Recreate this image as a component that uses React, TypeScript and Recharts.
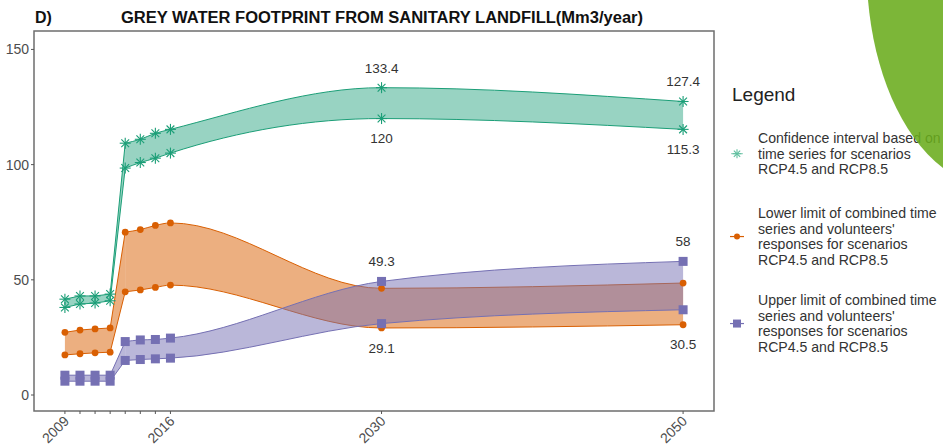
import React from 'react';
import {
  ComposedChart,
  Area,
  Line,
  XAxis,
  YAxis,
  ReferenceArea,
  ReferenceDot,
  Customized,
} from 'recharts';

// ---- data -------------------------------------------------------------
const years = [2009, 2010, 2011, 2012, 2013, 2014, 2015, 2016, 2030, 2050];

// Confidence interval based on time series (Mm3/year)
const greenHigh = [41.6, 43.0, 43.0, 43.8, 109.3, 111.0, 113.6, 115.3, 133.4, 127.4];
const greenLow = [38.0, 39.5, 39.9, 40.9, 98.5, 100.9, 102.8, 105.0, 120, 115.3];

// Lower limit of combined time series and volunteers' responses
const orangeHigh = [27.2, 28.2, 28.7, 29.1, 70.7, 71.8, 73.6, 74.7, 46.3, 48.6];
const orangeLow = [17.4, 17.9, 18.3, 18.6, 44.8, 45.6, 46.7, 47.7, 29.1, 30.5];

// Upper limit of combined time series and volunteers' responses
const purpleHigh = [8.6, 8.6, 8.6, 8.6, 23.2, 23.9, 24.1, 24.7, 49.3, 58];
const purpleLow = [6.0, 6.0, 6.0, 6.0, 15.0, 15.4, 15.7, 16.0, 31.0, 37.0];

const xTicks = [2009, 2010, 2011, 2012, 2013, 2014, 2015, 2016, 2030, 2050];
const xTickLabels = ['2009', '', '', '', '', '', '', '2016', '2030', '2050'];
const yTicks = [0, 50, 100, 150];

const xDomain: [number, number] = [2006.95, 2052.05];
const yDomain: [number, number] = [-6.94, 158];

// year where the step jump ends and the smooth projection starts
const splitYear = 2013;

const legendTitle = 'Legend';
const legendEntries = [
  ['Confidence interval based on', 'time series for scenarios', 'RCP4.5 and RCP8.5'],
  ["Lower limit of combined time", "series and volunteers'", 'responses for scenarios', 'RCP4.5 and RCP8.5'],
  ["Upper limit of combined time", "series and volunteers'", 'responses for scenarios', 'RCP4.5 and RCP8.5'],
];

const panelTag = 'D)';
const title = 'GREY WATER FOOTPRINT FROM SANITARY LANDFILL(Mm3/year)';

// ---- styling ----------------------------------------------------------
const GREEN = '#1b9e77';
const ORANGE = '#d95f02';
const PURPLE = '#7570b3';
const FONT = '"Liberation Sans", Arial, Helvetica, sans-serif';

// ---- table built from the arrays --------------------------------------
const rows = years.map((year, i) => ({
  year,
  green: [greenLow[i], greenHigh[i]],
  orange: [orangeLow[i], orangeHigh[i]],
  purple: [purpleLow[i], purpleHigh[i]],
  greenLow: greenLow[i],
  greenHigh: greenHigh[i],
  orangeLow: orangeLow[i],
  orangeHigh: orangeHigh[i],
  purpleLow: purpleLow[i],
  purpleHigh: purpleHigh[i],
}));
const earlyRows = rows.filter((r) => r.year <= splitYear);
const lateRows = rows.filter((r) => r.year >= splitYear);

// value labels: [series arrays, index, above?]
const idx2030 = years.indexOf(2030);
const idx2050 = years.indexOf(2050);
const valueLabels: { arr: number[]; i: number; above: boolean }[] = [
  { arr: greenHigh, i: idx2030, above: true },
  { arr: greenLow, i: idx2030, above: false },
  { arr: greenHigh, i: idx2050, above: true },
  { arr: greenLow, i: idx2050, above: false },
  { arr: purpleHigh, i: idx2030, above: true },
  { arr: orangeLow, i: idx2030, above: false },
  { arr: purpleHigh, i: idx2050, above: true },
  { arr: orangeLow, i: idx2050, above: false },
];

// ---- marker shapes ----------------------------------------------------
function asterisk(cx: number, cy: number, color: string, size: number, key?: string) {
  const r = size / 2;
  const d = r * 0.707;
  return (
    <g key={key} stroke={color} strokeWidth={1.1}>
      <line x1={cx - r} y1={cy} x2={cx + r} y2={cy} />
      <line x1={cx} y1={cy - r} x2={cx} y2={cy + r} />
      <line x1={cx - d} y1={cy - d} x2={cx + d} y2={cy + d} />
      <line x1={cx - d} y1={cy + d} x2={cx + d} y2={cy - d} />
    </g>
  );
}

const starDot = (p: any) =>
  p.cx == null || p.cy == null ? <g key={`s-${p.index}`} /> : asterisk(p.cx, p.cy, GREEN, 11, `s-${p.index}`);

const circleDot = (p: any) =>
  p.cx == null || p.cy == null ? (
    <g key={`c-${p.index}`} />
  ) : (
    <circle key={`c-${p.index}`} cx={p.cx} cy={p.cy} r={3.4} fill={ORANGE} />
  );

const squareDot = (p: any) =>
  p.cx == null || p.cy == null ? (
    <g key={`q-${p.index}`} />
  ) : (
    <rect key={`q-${p.index}`} x={p.cx - 4.5} y={p.cy - 4.5} width={9} height={9} fill={PURPLE} />
  );

const XTick = (props: any) => {
  const { x, y, payload } = props;
  const label = xTickLabels[xTicks.indexOf(payload.value)];
  if (!label) return <g />;
  return (
    <text
      x={x + 5}
      y={y + 6}
      transform={`rotate(-45, ${x + 5}, ${y + 6})`}
      textAnchor="end"
      fontSize={14}
      fill="#4d4d4d"
      fontFamily={FONT}
    >
      {label}
    </text>
  );
};

// ---- legend and header drawn inside the svg ----------------------------
const LegendBlock = () => {
  const keyX = 737;
  const textX = 758;
  const lh = 15.7;
  const firstBaselines = [143, 218, 305];
  const keyColors = [GREEN, ORANGE, PURPLE];
  return (
    <g fontFamily={FONT}>
      <text x={732} y={101} fontSize={19} fill="#222">
        {legendTitle}
      </text>
      {legendEntries.map((lines, k) => {
        const b0 = firstBaselines[k];
        const center = b0 - 5 + ((lines.length - 1) * lh) / 2;
        return (
          <g key={`entry-${k}`}>
            {k === 0 ? (
              <g>
                <line x1={keyX - 6} y1={center} x2={keyX + 6} y2={center} stroke="#8fd0bb" strokeWidth={1} />
                {asterisk(keyX, center, '#5fbf9f', 9)}
              </g>
            ) : (
              <g>
                <line x1={keyX - 7} y1={center} x2={keyX + 7} y2={center} stroke={keyColors[k]} strokeWidth={1.2} />
                {k === 1 ? (
                  <circle cx={keyX} cy={center} r={3} fill={ORANGE} />
                ) : (
                  <rect x={keyX - 4} y={center - 4} width={8} height={8} fill={PURPLE} />
                )}
              </g>
            )}
            {lines.map((t, j) => (
              <text key={j} x={textX} y={b0 + j * lh} fontSize={14.1} fill="#333">
                {t}
              </text>
            ))}
          </g>
        );
      })}
      {/* decorative slide corner */}
      <path d="M868,0 C874,70 900,135 943,168 L943,0 Z" fill="#6aac1c" opacity={0.88} />
    </g>
  );
};

const Header = () => (
  <g fontFamily={FONT} fontWeight="bold" fill="#111">
    <text x={35} y={23} fontSize={16}>
      {panelTag}
    </text>
    <text x={121} y={23} fontSize={16} textLength={522} lengthAdjust="spacingAndGlyphs">
      {title}
    </text>
  </g>
);

export default function App() {
  return (
    <div style={{ position: 'absolute', left: 0, top: 0, background: '#fff' }}>
      <ComposedChart
        width={943}
        height={447}
        data={rows}
        margin={{ top: 31, right: 229, bottom: 0, left: 0 }}
        style={{ fontFamily: FONT }}
      >
        <XAxis
          dataKey="year"
          type="number"
          domain={xDomain}
          allowDataOverflow
          ticks={xTicks}
          interval={0}
          height={36}
          tickSize={3}
          tickMargin={2}
          axisLine={false}
          tickLine={{ stroke: '#555' }}
          tick={<XTick />}
        />
        <YAxis
          type="number"
          domain={yDomain}
          allowDataOverflow
          ticks={yTicks}
          width={34}
          tickSize={3}
          tickMargin={2}
          axisLine={false}
          tickLine={{ stroke: '#555' }}
          tick={{ fontSize: 14, fill: '#4d4d4d', fontFamily: FONT }}
        />

        {/* ribbons: straight through the observed years, smooth for the projection */}
        <Area data={earlyRows} dataKey="green" type="linear" fill={GREEN} fillOpacity={0.45} stroke={GREEN} strokeWidth={1} isAnimationActive={false} dot={false} activeDot={false} />
        <Area data={lateRows} dataKey="green" type="monotoneX" fill={GREEN} fillOpacity={0.45} stroke={GREEN} strokeWidth={1} isAnimationActive={false} dot={false} activeDot={false} />
        <Area data={earlyRows} dataKey="orange" type="linear" fill={ORANGE} fillOpacity={0.5} stroke={ORANGE} strokeWidth={1} isAnimationActive={false} dot={false} activeDot={false} />
        <Area data={lateRows} dataKey="orange" type="monotoneX" fill={ORANGE} fillOpacity={0.5} stroke={ORANGE} strokeWidth={1} isAnimationActive={false} dot={false} activeDot={false} />
        <Area data={earlyRows} dataKey="purple" type="linear" fill={PURPLE} fillOpacity={0.5} stroke={PURPLE} strokeWidth={1} isAnimationActive={false} dot={false} activeDot={false} />
        <Area data={lateRows} dataKey="purple" type="monotoneX" fill={PURPLE} fillOpacity={0.5} stroke={PURPLE} strokeWidth={1} isAnimationActive={false} dot={false} activeDot={false} />

        {/* point markers */}
        <Line dataKey="greenHigh" stroke="none" dot={starDot} activeDot={false} isAnimationActive={false} />
        <Line dataKey="greenLow" stroke="none" dot={starDot} activeDot={false} isAnimationActive={false} />
        <Line dataKey="orangeHigh" stroke="none" dot={circleDot} activeDot={false} isAnimationActive={false} />
        <Line dataKey="orangeLow" stroke="none" dot={circleDot} activeDot={false} isAnimationActive={false} />
        <Line dataKey="purpleHigh" stroke="none" dot={squareDot} activeDot={false} isAnimationActive={false} />
        <Line dataKey="purpleLow" stroke="none" dot={squareDot} activeDot={false} isAnimationActive={false} />

        {valueLabels.map((l, k) => (
          <ReferenceDot
            key={`lab-${k}`}
            x={years[l.i]}
            y={l.arr[l.i]}
            r={0}
            fill="none"
            stroke="none"
            ifOverflow="visible"
            label={{
              value: String(l.arr[l.i]),
              position: l.above ? 'top' : 'bottom',
              offset: 15,
              fill: '#333',
              fontSize: 13.5,
              fontFamily: FONT,
            }}
          />
        ))}

        {/* panel border */}
        <ReferenceArea
          x1={xDomain[0]}
          x2={xDomain[1]}
          y1={yDomain[0]}
          y2={yDomain[1]}
          fill="none"
          stroke="#6e6e6e"
          strokeWidth={1.5}
          ifOverflow="visible"
        />

        <Customized component={<Header />} />
        <Customized component={<LegendBlock />} />
      </ComposedChart>
    </div>
  );
}
